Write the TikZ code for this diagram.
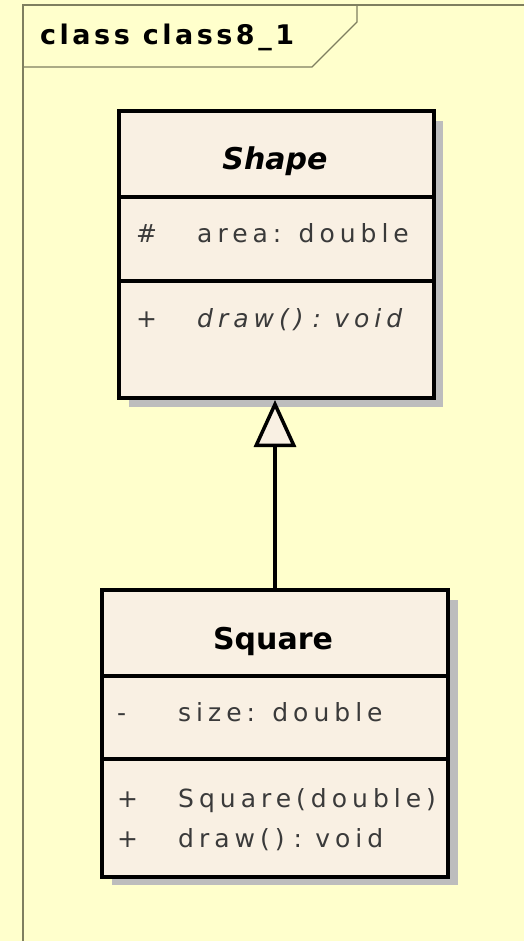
\documentclass[tikz,border=0pt]{standalone}
\usepackage{fontspec}
\setmainfont{DejaVu Sans}
\newfontfamily\titlefont[LetterSpace=13]{DejaVu Sans}
\newfontfamily\attrfont[LetterSpace=20]{DejaVu Sans}
\usetikzlibrary{arrows.meta}
\definecolor{bgc}{HTML}{FFFFCC}
\definecolor{boxfill}{HTML}{F9F0E3}
\definecolor{shadowc}{HTML}{BDBDBD}
\definecolor{attrc}{HTML}{3A3A3A}
\definecolor{framec}{HTML}{7F7F60}
\tikzset{
  classbox/.style={draw=black, line width=4pt, fill=boxfill, rectangle, anchor=north west, inner sep=0pt},
  divider/.style={draw=black, line width=3.5pt},
  shadowbox/.style={fill=shadowc},
  attrtext/.style={anchor=base west, inner sep=0pt, text=attrc, font=\attrfont\fontsize{25}{29}\selectfont},
  clsname/.style={anchor=base, inner sep=0pt, text=black},
  genarrow/.style={draw=black, line width=3.5pt, -{Triangle[open, fill=boxfill, length=47pt, width=42pt, line width=3.5pt]}},
  framel/.style={draw=framec, line width=1.2pt}
}
\begin{document}
\begin{tikzpicture}[x=1pt,y=-1pt]
\fill[bgc] (0,0) rectangle (524,941);
\useasboundingbox (0,0) rectangle (524,941);
% frame
\draw[framel] (524,5) -- (23,5) -- (23,941);
\draw[framel] (23,67) -- (312,67) -- (357,22) -- (357,5);
\node[anchor=base west, inner sep=0pt, font=\titlefont\bfseries\fontsize{27}{31}\selectfont] (title) at (40,45) {class class8\_1};
% Shape
\fill[shadowbox] (129,121) rectangle (443,407);
\node[classbox, minimum width=315pt, minimum height=287pt] (shape) at (117,109) {};
\draw[divider] (117,197) -- (432,197);
\draw[divider] (117,281) -- (436,281);
\node[clsname, font=\bfseries\itshape\fontsize{30}{34}\selectfont] (shapename) at (275,170) {Shape};
\node[attrtext] (shapevis1) at (136,243) {\#};
\node[attrtext] (shapeattr) at (197,243) {area: double};
\node[attrtext] (shapevis2) at (136,327) {+};
\node[attrtext, font=\attrfont\itshape\fontsize{25}{29}\selectfont] (shapeop) at (197,327) {draw()\hspace{-4pt} : \hspace{-4pt}void};
% Square
\fill[shadowbox] (112,600) rectangle (458,885);
\node[classbox, minimum width=346pt, minimum height=287pt] (square) at (100,588) {};
\draw[divider] (100,676) -- (446,676);
\draw[divider] (100,759) -- (450,759);
\node[clsname, font=\bfseries\fontsize{30}{34}\selectfont] (squarename) at (273,649) {Square};
\node[attrtext] (sqvis1) at (117,721) {-};
\node[attrtext] (sqattr) at (178,721) {size: double};
\node[attrtext] (sqvis2) at (117,807) {+};
\node[attrtext] (sqop1) at (178,807) {Square(double)};
\node[attrtext] (sqvis3) at (117,847) {+};
\node[attrtext] (sqop2) at (178,847) {draw()\hspace{-4pt} : \hspace{-4pt}void};
% generalization
\draw[genarrow] (square.north) -- (square.north |- shape.south);
\end{tikzpicture}
\end{document}
